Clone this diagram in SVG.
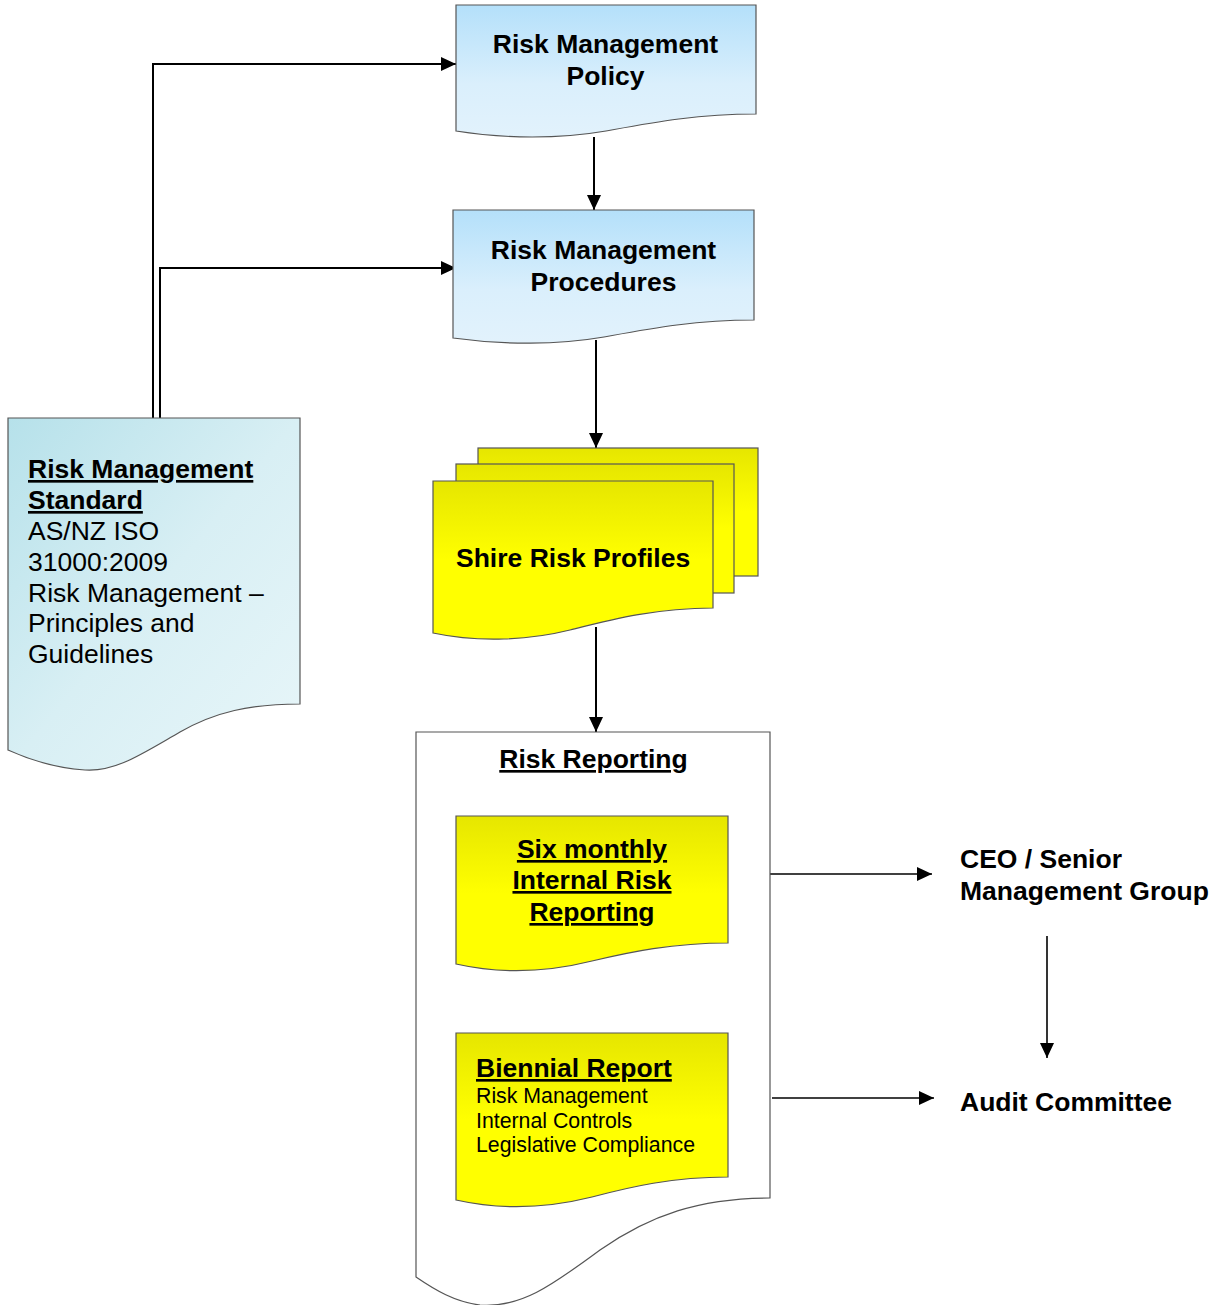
<svg xmlns="http://www.w3.org/2000/svg" width="1222" height="1305" viewBox="0 0 1222 1305">
<defs>
<linearGradient id="gBlue" x1="0" y1="0" x2="0" y2="1">
<stop offset="0" stop-color="#b4e0fa"/>
<stop offset="0.6" stop-color="#daeffc"/>
<stop offset="1" stop-color="#e2f2fc"/>
</linearGradient>
<linearGradient id="gTeal" x1="0" y1="0" x2="1" y2="1">
<stop offset="0" stop-color="#b6e1ea"/>
<stop offset="0.5" stop-color="#d8eff4"/>
<stop offset="1" stop-color="#e8f6f9"/>
</linearGradient>
<linearGradient id="gYellow" x1="0" y1="0" x2="0" y2="1">
<stop offset="0" stop-color="#e6e600"/>
<stop offset="0.5" stop-color="#ffff00"/>
<stop offset="1" stop-color="#ffff00"/>
</linearGradient>
<marker id="arr" markerUnits="userSpaceOnUse" markerWidth="16" markerHeight="14" refX="15" refY="7" orient="auto">
<path d="M0,0 L15,7 L0,14 Z" fill="#000"/>
</marker>
</defs>
<style>
.doc{stroke:#555;stroke-width:1.2}
.t{font-family:"Liberation Sans",Arial,sans-serif;fill:#000}
.b{font-weight:bold;font-size:26.5px}
.r{font-size:26.5px}
.s{font-size:21.3px}
.u{text-decoration:underline}
.c{text-anchor:middle}
.ln{fill:none;stroke:#000;stroke-width:2}
.ln2{fill:none;stroke:#000;stroke-width:1.6}
</style>

<g id="connectors">
<path class="ln" d="M153,418 V64 H456" marker-end="url(#arr)"/>
<path class="ln" d="M160,418 V268 H456" marker-end="url(#arr)"/>
<path class="ln" d="M594,137 V210" marker-end="url(#arr)"/>
<path class="ln" d="M596,340 V448" marker-end="url(#arr)"/>
<path class="ln" d="M596,627 V732" marker-end="url(#arr)"/>
<path class="ln2" d="M770,874 H932" marker-end="url(#arr)"/>
<path class="ln2" d="M772,1098 H934" marker-end="url(#arr)"/>
<path class="ln2" d="M1047,936 V1058" marker-end="url(#arr)"/>
</g>

<g id="policy">
<path class="doc" fill="url(#gBlue)" d="M456,5 H756 V114 C696,114 650,123 606,131 C560,139 505,139 456,131 Z"/>
<text class="t b c" x="605.5" y="53">Risk Management</text>
<text class="t b c" x="605.5" y="85">Policy</text>
</g>

<g id="procedures">
<path class="doc" fill="url(#gBlue)" d="M453,210 H754 V320 C694,320 648,329 604,337 C558,345 503,345 453,338 Z"/>
<text class="t b c" x="603.5" y="259">Risk Management</text>
<text class="t b c" x="603.5" y="291">Procedures</text>
</g>

<g id="standard">
<path class="doc" fill="url(#gTeal)" d="M8,418 H300 V704 C250,704 215,712 180,732 C140,755 115,772 85,770 C55,768 30,760 8,750 Z"/>
<text class="t b u" x="28" y="478">Risk Management</text>
<text class="t b u" x="28" y="509">Standard</text>
<text class="t r" x="28" y="540">AS/NZ ISO</text>
<text class="t r" x="28" y="571">31000:2009</text>
<text class="t r" x="28" y="602">Risk Management –</text>
<text class="t r" x="28" y="632">Principles and</text>
<text class="t r" x="28" y="663">Guidelines</text>
</g>

<g id="shire">
<rect class="doc" fill="url(#gYellow)" x="478" y="448" width="280" height="128"/>
<rect class="doc" fill="url(#gYellow)" x="456" y="464" width="278" height="129"/>
<path class="doc" fill="url(#gYellow)" d="M433,481 H713 V608 C655,608 610,620 570,630 C530,640 480,643 433,633 Z"/>
<text class="t b" x="456" y="567">Shire Risk Profiles</text>
</g>

<g id="reporting">
<path class="doc" stroke="#333" fill="#fff" d="M416,732 H770 V1198 C700,1198 650,1215 600,1250 C550,1287 520,1308 480,1305 C455,1302 435,1290 416,1277 Z"/>
<text class="t b u c" x="593.5" y="768">Risk Reporting</text>
</g>

<g id="sixmonthly">
<path class="doc" fill="url(#gYellow)" d="M456,816 H728 V943 C672,943 630,952 592,961 C552,971 505,975 456,964 Z"/>
<text class="t b u c" x="592" y="858">Six monthly</text>
<text class="t b u c" x="592" y="889">Internal Risk</text>
<text class="t b u c" x="592" y="921">Reporting</text>
</g>

<g id="biennial">
<path class="doc" fill="url(#gYellow)" d="M456,1033 H728 V1177 C672,1177 630,1187 592,1197 C552,1207 505,1211 456,1200 Z"/>
<text class="t b u" x="476" y="1077">Biennial Report</text>
<text class="t s" x="476" y="1103">Risk Management</text>
<text class="t s" x="476" y="1128">Internal Controls</text>
<text class="t s" x="476" y="1152">Legislative Compliance</text>
</g>

<g id="ceo">
<text class="t b" x="960" y="868">CEO / Senior</text>
<text class="t b" x="960" y="900">Management Group</text>
</g>

<g id="audit">
<text class="t b" x="960" y="1111">Audit Committee</text>
</g>
</svg>
